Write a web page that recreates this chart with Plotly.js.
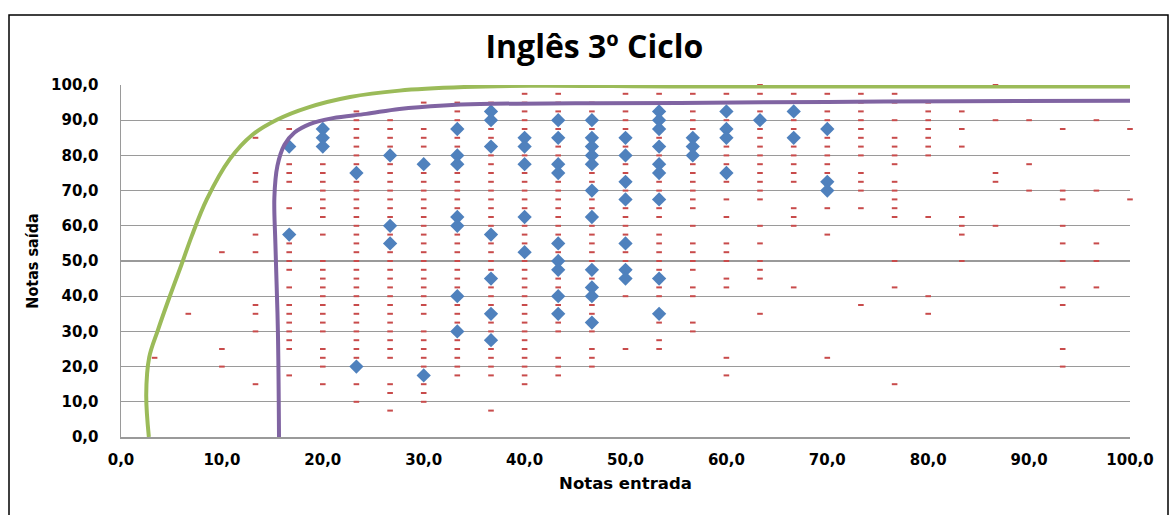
<!DOCTYPE html>
<html>
<head>
<meta charset="utf-8">
<script src="https://cdn.plot.ly/plotly-3.0.1.min.js"></script>
<style>
  html, body { margin: 0; padding: 0; background: #ffffff; }
  #chart { width: 1170px; height: 515px; }
</style>
</head>
<body>
<div id="chart"></div>
<script>
// ---- Data ----
// All students: entrance grade columns and the exit grades seen in each column
const allX = [3.33, 6.67, 10, 13.33, 16.67, 20, 23.33, 26.67, 30, 33.33, 36.67, 40, 43.33, 46.67, 50,
              53.33, 56.67, 60, 63.33, 66.67, 70, 73.33, 76.67, 80, 83.33, 86.67, 90, 93.33, 96.67, 100];
const allY = [
  [22.5],
  [35],
  [52.5, 25, 20],
  [85, 75, 72.5, 57.5, 52.5, 37.5, 35, 30, 15],
  [87.5, 82.5, 77.5, 75, 72.5, 65, 57.5, 55, 52.5, 50, 47.5, 42.5, 37.5, 35, 32.5, 30, 27.5, 25, 17.5],
  [87.5, 85, 82.5, 77.5, 75, 72.5, 70, 67.5, 65, 62.5, 57.5, 50, 47.5, 45, 42.5, 40, 37.5, 35, 32.5, 30, 25, 22.5, 20, 15],
  [92.5, 90, 87.5, 85, 82.5, 80, 77.5, 75, 72.5, 70, 67.5, 65, 62.5, 60, 57.5, 55, 52.5, 50, 47.5, 45, 42.5, 40, 37.5, 35, 32.5, 30, 27.5, 25, 22.5, 20, 15, 10],
  [90, 87.5, 85, 82.5, 80, 77.5, 75, 72.5, 70, 67.5, 65, 62.5, 60, 57.5, 55, 52.5, 50, 47.5, 45, 42.5, 40, 37.5, 35, 32.5, 30, 27.5, 25, 22.5, 15, 12.5, 7.5],
  [95, 87.5, 85, 82.5, 77.5, 75, 72.5, 70, 67.5, 65, 62.5, 60, 57.5, 55, 52.5, 50, 47.5, 45, 42.5, 40, 37.5, 35, 30, 27.5, 25, 22.5, 20, 17.5, 15, 12.5, 10],
  [95, 92.5, 90, 87.5, 85, 82.5, 80, 77.5, 75, 72.5, 70, 67.5, 65, 62.5, 60, 57.5, 55, 52.5, 50, 47.5, 45, 42.5, 40, 37.5, 35, 32.5, 30, 27.5, 25, 22.5, 20, 17.5],
  [95, 92.5, 90, 87.5, 85, 82.5, 80, 77.5, 75, 72.5, 70, 67.5, 65, 62.5, 60, 57.5, 55, 52.5, 50, 47.5, 45, 42.5, 40, 37.5, 35, 32.5, 30, 27.5, 25, 22.5, 20, 17.5, 7.5],
  [97.5, 95, 92.5, 90, 87.5, 85, 82.5, 80, 77.5, 75, 72.5, 70, 67.5, 65, 62.5, 60, 57.5, 55, 52.5, 50, 47.5, 45, 42.5, 40, 37.5, 35, 32.5, 30, 27.5, 25, 22.5, 20, 17.5, 15],
  [97.5, 95, 92.5, 90, 87.5, 85, 82.5, 80, 77.5, 75, 72.5, 70, 67.5, 65, 62.5, 60, 57.5, 55, 52.5, 50, 47.5, 45, 42.5, 40, 37.5, 35, 32.5, 30, 22.5, 20, 17.5],
  [95, 92.5, 90, 87.5, 85, 82.5, 80, 77.5, 75, 72.5, 70, 67.5, 65, 62.5, 60, 57.5, 55, 52.5, 50, 47.5, 45, 42.5, 40, 37.5, 35, 32.5, 30, 25, 22.5, 20],
  [97.5, 92.5, 90, 87.5, 85, 82.5, 80, 77.5, 75, 72.5, 70, 67.5, 65, 62.5, 60, 57.5, 55, 52.5, 50, 47.5, 45, 40, 25],
  [97.5, 92.5, 90, 87.5, 85, 82.5, 80, 77.5, 75, 72.5, 70, 67.5, 65, 62.5, 57.5, 55, 52.5, 50, 47.5, 45, 42.5, 40, 35, 32.5, 27.5, 25],
  [97.5, 92.5, 90, 87.5, 85, 82.5, 80, 77.5, 75, 72.5, 70, 67.5, 65, 60, 55, 52.5, 50, 47.5, 42.5, 40, 32.5, 30],
  [97.5, 92.5, 90, 87.5, 85, 82.5, 80, 77.5, 75, 72.5, 67.5, 62.5, 55, 52.5, 50, 45, 42.5, 22.5, 17.5],
  [100, 97.5, 92.5, 90, 87.5, 85, 82.5, 80, 77.5, 75, 72.5, 70, 67.5, 60, 55, 50, 47.5, 45, 35],
  [97.5, 92.5, 90, 87.5, 85, 82.5, 80, 77.5, 75, 72.5, 65, 62.5, 60, 42.5],
  [97.5, 92.5, 90, 87.5, 85, 82.5, 80, 77.5, 75, 72.5, 70, 65, 57.5, 22.5],
  [97.5, 95, 92.5, 90, 87.5, 85, 82.5, 80, 75, 72.5, 70, 65, 37.5],
  [97.5, 95, 90, 85, 82.5, 80, 77.5, 72.5, 70, 67.5, 65, 62.5, 50, 42.5, 15],
  [95, 92.5, 90, 87.5, 85, 82.5, 80, 62.5, 40, 35],
  [92.5, 87.5, 82.5, 62.5, 60, 57.5, 50],
  [100, 90, 75, 72.5, 60],
  [90, 77.5, 70],
  [87.5, 70, 67.5, 60, 55, 50, 42.5, 37.5, 25, 20],
  [90, 70, 55, 50, 42.5],
  [87.5, 67.5]
];

// Highlighted students (blue diamonds)
const selX = [16.67, 20, 23.33, 26.67, 30, 33.33, 36.67, 40, 43.33, 46.67, 50, 53.33, 56.67, 60, 63.33, 66.67, 70];
const selY = [
  [82.5, 57.5],
  [87.5, 85, 82.5],
  [75, 20],
  [80, 60, 55],
  [77.5, 17.5],
  [87.5, 80, 77.5, 62.5, 60, 40, 30],
  [92.5, 90, 82.5, 57.5, 45, 35, 27.5],
  [85, 82.5, 77.5, 62.5, 52.5],
  [90, 85, 77.5, 75, 55, 50, 47.5, 40, 35],
  [90, 85, 82.5, 80, 77.5, 70, 62.5, 47.5, 42.5, 40, 32.5],
  [85, 80, 72.5, 67.5, 55, 47.5, 45],
  [92.5, 90, 87.5, 82.5, 77.5, 75, 67.5, 45, 35],
  [85, 82.5, 80],
  [92.5, 87.5, 85, 75],
  [90],
  [92.5, 85],
  [87.5, 72.5, 70]
];

// Envelope curves
const greenX = [2.76, 2.5, 2.8, 3.65, 4.8, 6.0, 7.0, 8.5, 10.8, 13.0, 15.5, 18.5, 22.7, 27.6, 34, 40.6, 55, 75, 100];
const greenY = [0, 12, 22.7, 30.3, 39.7, 49, 57, 67.5, 79, 85.8, 90.2, 93.6, 96.6, 98.4, 99.4, 99.8, 99.6, 99.6, 99.6];
const purpleX = [15.66, 15.55, 15.3, 15.2, 15.5, 16.2, 17.2, 18.7, 21, 24.3, 27.6, 32, 35.6, 45, 55.4, 70, 83, 100];
const purpleY = [0, 30, 55, 68, 77, 83, 86.5, 88.9, 90.6, 91.8, 93.2, 94.2, 94.6, 94.8, 94.9, 95.2, 95.4, 95.5];

// ---- Build traces ----
function flatten(xs, ys) {
  const X = [], Y = [];
  xs.forEach((x, i) => ys[i].forEach(y => { X.push(x); Y.push(y); }));
  return { X, Y };
}
const all = flatten(allX, allY);
const sel = flatten(selX, selY);

const traces = [
  {
    type: 'scatter', mode: 'markers', x: all.X, y: all.Y, name: 'Todos',
    marker: { symbol: 'line-ew', size: 4, color: '#C84B4B', line: { color: '#C84B4B', width: 2 } },
    hoverinfo: 'skip', cliponaxis: false
  },
  {
    type: 'scatter', mode: 'markers', x: sel.X, y: sel.Y, name: 'Seleção',
    marker: { symbol: 'diamond', size: 11, color: '#4F81BD', line: { width: 0 } },
    hoverinfo: 'skip'
  },
  {
    type: 'scatter', mode: 'lines', x: greenX, y: greenY, name: 'Limite superior',
    line: { color: '#9BBB59', width: 4, shape: 'spline', smoothing: 1 }, hoverinfo: 'skip'
  },
  {
    type: 'scatter', mode: 'lines', x: purpleX, y: purpleY, name: 'Limite inferior',
    line: { color: '#8064A2', width: 4, shape: 'spline', smoothing: 1 }, hoverinfo: 'skip'
  }
];

const tickFont = { family: '"DejaVu Sans", sans-serif', size: 15, color: '#000000', weight: 'bold' };

const layout = {
  width: 1170, height: 515,
  margin: { l: 121, r: 40, t: 85, b: 78 },
  paper_bgcolor: '#ffffff', plot_bgcolor: '#ffffff',
  separators: ',.',
  showlegend: false,
  title: {
    text: 'Inglês 3º Ciclo',
    font: { family: '"Open Sans", Lato, sans-serif', size: 32, color: '#000000', weight: 'bold' },
    x: 0.508, xref: 'container', xanchor: 'center',
    y: 0.91, yref: 'container', yanchor: 'middle'
  },
  xaxis: {
    range: [0, 100], dtick: 10, tick0: 0, tickformat: '.1f',
    showgrid: false, zeroline: false,
    showline: true, linecolor: '#9a9a9a', linewidth: 1.5,
    ticks: '', ticklabelstandoff: 8, tickfont: tickFont,
    title: { text: 'Notas entrada', standoff: 10,
      font: { family: '"DejaVu Sans", sans-serif', size: 16.5, color: '#000000', weight: 'bold' } }
  },
  yaxis: {
    range: [0, 100], dtick: 10, tick0: 0, tickformat: '.1f',
    showgrid: true, gridcolor: '#9a9a9a', gridwidth: 1.3, zeroline: false,
    showline: true, linecolor: '#9a9a9a', linewidth: 1.5,
    ticks: '', ticklabelstandoff: 18, tickfont: tickFont,
    title: { text: 'Notas saída', standoff: 8,
      font: { family: '"Liberation Sans Narrow", "DejaVu Sans Condensed", Lato, sans-serif', size: 16, color: '#000000', weight: 'bold' } }
  },
  shapes: [
    { type: 'rect', xref: 'paper', yref: 'paper',
      x0: (9 - 121) / 1009, x1: (1168 - 121) / 1009,
      y0: (436.7 - 530) / 351.7, y1: (436.7 - 15) / 351.7,
      line: { color: '#000000', width: 1.5 }, fillcolor: 'rgba(0,0,0,0)', layer: 'below' }
  ]
};

Plotly.newPlot('chart', traces, layout, { displayModeBar: false, staticPlot: true });
</script>
</body>
</html>
